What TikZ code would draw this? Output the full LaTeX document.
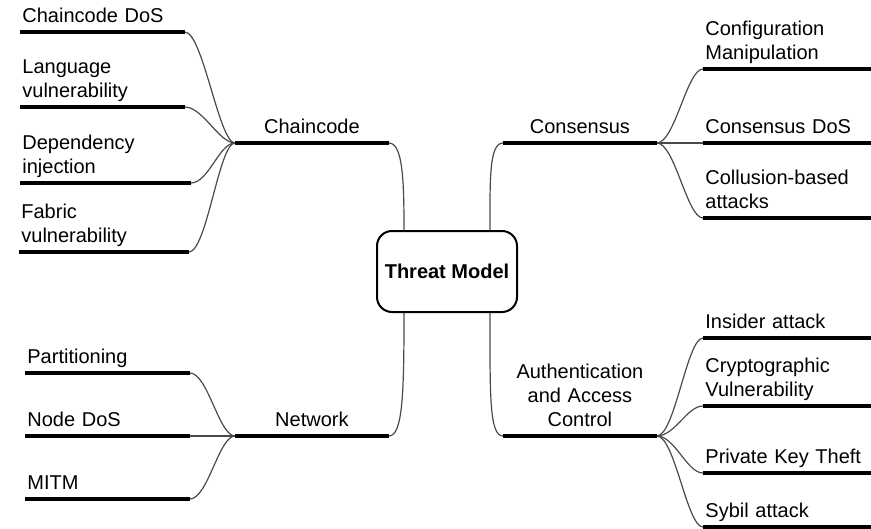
\documentclass[tikz,border=0pt]{standalone}
\usepackage{fontspec}
\setmainfont{Liberation Sans}
\usetikzlibrary{positioning, calc}
\definecolor{MapBlack}{HTML}{000000}
\definecolor{MapGrey}{HTML}{4A4A4A}
\tikzset{
    % Node styles
    rootbox/.style={
        rectangle,
        rounded corners=7.5pt,
        draw=MapBlack,
        line width=1pt,
        minimum width=70pt,
        minimum height=40.5pt,
        font=\fontsize{10}{12}\selectfont\bfseries
    },
    leaf/.style={
        anchor=south west,
        text width=80pt,
        align=left,
        inner xsep=1pt,
        inner ysep=0.9pt,
        font=\fontsize{10}{12}\selectfont,
        execute at end node=\strut
    },
    rleaf/.style={
        leaf,
        text width=82pt
    },
    branch/.style={
        leaf,
        text width=74.5pt,
        align=center
    },
    % Line styles
    bar/.style={
        draw=MapBlack,
        line width=2.3pt
    },
    stem/.style={
        draw=MapGrey,
        line width=0.6pt
    },
    twig/.style={
        stem,
        to path={.. controls +(18,0) and +(-16,0) .. (\tikztotarget)}
    }
}

\begin{document}
\begin{tikzpicture}[x=0.5pt, y=-0.5pt]
    \useasboundingbox (0,0) rectangle (871,529);

    \node[rootbox] (tm) at (447,271.5) {Threat Model};

    % branches
    \node[branch] (cc) at (235,143) {Chaincode};
    \node[branch] (net) at (235,436) {Network};
    \node[branch] (cons) at (503,143) {Consensus};
    \node[branch] (auth) at (503,436) {Authentication\\and Access\\Control};

    % chaincode threats
    \node[leaf] (ccdos) at (20,32) {Chaincode DoS};
    \node[leaf] (lang) at (20,107) {Language\\vulnerability};
    \node[leaf, text width=83pt] (dep) at (20,183) {Dependency\\injection};
    \node[leaf, text width=82.5pt] (fab) at (19,252) {Fabric\\vulnerability};

    % network threats
    \node[leaf] (part) at (25,373) {Partitioning};
    \node[leaf] (ndos) at (25,436) {Node DoS};
    \node[leaf] (mitm) at (25,499) {MITM};

    % consensus threats
    \node[rleaf] (conf) at (703,69) {Configuration\\Manipulation};
    \node[rleaf] (cnsdos) at (703,143) {Consensus DoS};
    \node[rleaf] (coll) at (703,218) {Collusion-based\\attacks};

    % authentication threats
    \node[rleaf] (ins) at (703,338) {Insider attack};
    \node[rleaf] (crypt) at (703,406) {Cryptographic\\Vulnerability};
    \node[rleaf] (pkt) at (703,473) {Private Key Theft};
    \node[rleaf] (syb) at (703,527) {Sybil attack};

    % links from the root
    \draw[stem] (cc.south east) .. controls +(14,0) and +(0,-50) .. ([xshift=-21.5pt]tm.north);
    \draw[stem] (cons.south west) .. controls +(-14,0) and +(0,-50) .. ([xshift=21.5pt]tm.north);
    \draw[stem] ([xshift=-21.5pt]tm.south) .. controls +(0,80) and +(14,0) .. (net.south east);
    \draw[stem] ([xshift=21.5pt]tm.south) .. controls +(0,80) and +(-14,0) .. (auth.south west);

    % links to the leaves
    \foreach \n in {ccdos,lang,dep,fab}
        \draw[twig] (\n.south east) to (cc.south west);
    \foreach \n in {part,ndos,mitm}
        \draw[twig] (\n.south east) to (net.south west);
    \foreach \n in {conf,cnsdos,coll}
        \draw[twig] (cons.south east) to (\n.south west);
    \foreach \n in {ins,crypt,pkt,syb}
        \draw[twig] (auth.south east) to (\n.south west);

    % underlines
    \foreach \n in {cc,net,cons,auth,ccdos,lang,dep,fab,part,ndos,mitm,conf,cnsdos,coll,ins,crypt,pkt,syb}
        \draw[bar] (\n.south west) -- (\n.south east);
\end{tikzpicture}
\end{document}
